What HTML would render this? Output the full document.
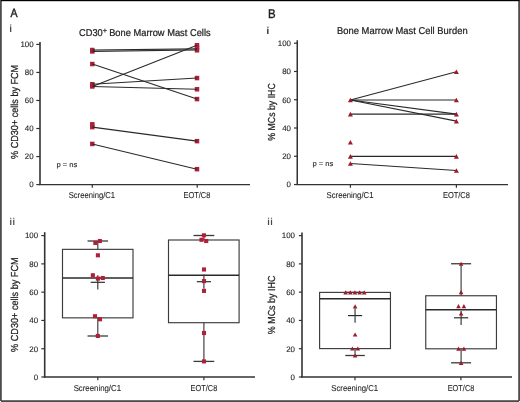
<!DOCTYPE html>
<html><head><meta charset="utf-8"><style>
html,body{margin:0;padding:0;background:#fff;}
body{width:520px;height:402px;overflow:hidden;}
svg{display:block;font-family:"Liberation Sans",sans-serif;font-kerning:none;text-rendering:geometricPrecision;will-change:transform;}
</style></head><body>
<svg width="520" height="402" viewBox="0 0 520 402" font-family="Liberation Sans, sans-serif">
<rect x="0" y="0" width="520" height="402" fill="#fff"/>
<text transform="translate(10.38,17.00) scale(0.10557,0.11919)" font-size="100" fill="#231f20" stroke="#231f20" stroke-width="3.78" >A</text>
<text transform="translate(267.96,18.00) scale(0.11461,0.12646)" font-size="100" fill="#231f20" stroke="#231f20" stroke-width="3.16" >B</text>
<text transform="translate(8.91,32.00) scale(0.14791,0.10212)" font-size="100" fill="#4a4a4a" >i</text>
<text transform="translate(265.78,34.00) scale(0.18204,0.09936)" font-size="100" fill="#4a4a4a" >i</text>
<text transform="translate(9.29,225.00) scale(0.13546,0.09936)" font-size="100" fill="#4a4a4a" >ii</text>
<text transform="translate(266.99,225.00) scale(0.13546,0.09936)" font-size="100" fill="#4a4a4a" >ii</text>
<text transform="translate(79.03,35.80) scale(0.09283,0.09884)" font-size="100" fill="#231f20" stroke="#231f20" stroke-width="2.53" >CD30</text>
<text transform="translate(102.84,33.00) scale(0.07410,0.07358)" font-size="100" fill="#231f20" stroke="#231f20" stroke-width="3.40" >+</text>
<text transform="translate(109.14,35.80) scale(0.09319,0.09884)" font-size="100" fill="#231f20" stroke="#231f20" stroke-width="2.53" >Bone Marrow Mast Cells</text>
<text transform="translate(337.03,33.90) scale(0.09398,0.09884)" font-size="100" fill="#231f20" stroke="#231f20" stroke-width="2.53" >Bone Marrow Mast Cell Burden</text>
<line x1="40.00" y1="42.00" x2="40.00" y2="184.90" stroke="#333333" stroke-width="1.6"/>
<line x1="36.30" y1="184.60" x2="40.00" y2="184.60" stroke="#333333" stroke-width="1.2"/>
<text transform="translate(29.21,187.40) scale(0.07910,0.07910)" font-size="100" fill="#231f20" stroke="#231f20" stroke-width="1.52" >0</text>
<line x1="36.30" y1="156.56" x2="40.00" y2="156.56" stroke="#333333" stroke-width="1.2"/>
<text transform="translate(24.81,159.36) scale(0.07910,0.07910)" font-size="100" fill="#231f20" stroke="#231f20" stroke-width="1.52" >20</text>
<line x1="36.30" y1="128.52" x2="40.00" y2="128.52" stroke="#333333" stroke-width="1.2"/>
<text transform="translate(24.81,131.32) scale(0.07910,0.07910)" font-size="100" fill="#231f20" stroke="#231f20" stroke-width="1.52" >40</text>
<line x1="36.30" y1="100.48" x2="40.00" y2="100.48" stroke="#333333" stroke-width="1.2"/>
<text transform="translate(24.81,103.28) scale(0.07910,0.07910)" font-size="100" fill="#231f20" stroke="#231f20" stroke-width="1.52" >60</text>
<line x1="36.30" y1="72.44" x2="40.00" y2="72.44" stroke="#333333" stroke-width="1.2"/>
<text transform="translate(24.81,75.24) scale(0.07910,0.07910)" font-size="100" fill="#231f20" stroke="#231f20" stroke-width="1.52" >80</text>
<line x1="36.30" y1="44.40" x2="40.00" y2="44.40" stroke="#333333" stroke-width="1.2"/>
<text transform="translate(20.41,47.20) scale(0.07910,0.07910)" font-size="100" fill="#231f20" stroke="#231f20" stroke-width="1.52" >100</text>
<line x1="39.20" y1="184.60" x2="250.00" y2="184.60" stroke="#333333" stroke-width="1.4"/>
<line x1="92.30" y1="184.60" x2="92.30" y2="187.80" stroke="#333333" stroke-width="1.2"/>
<line x1="197.20" y1="184.60" x2="197.20" y2="187.80" stroke="#333333" stroke-width="1.2"/>
<text transform="translate(68.65,198.00) scale(0.07662,0.08576)" font-size="100" fill="#231f20" stroke="#231f20" stroke-width="1.17" >Screening/C1</text>
<text transform="translate(183.59,198.00) scale(0.07400,0.08576)" font-size="100" fill="#231f20" stroke="#231f20" stroke-width="1.17" >EOT/C8</text>
<text transform="translate(17.80,158.92) rotate(-90) scale(0.09077,0.10175)" font-size="100" fill="#231f20" stroke="#231f20" stroke-width="2.46">% CD30+ cells by FCM</text>
<text transform="translate(56.41,167.10) scale(0.07619,0.07268)" font-size="100" fill="#231f20" stroke="#231f20" stroke-width="1.38" >p = ns</text>
<rect x="90.05" y="47.76" width="4.5" height="4.5" fill="#b01f38"/>
<rect x="90.05" y="49.16" width="4.5" height="4.5" fill="#b01f38"/>
<rect x="90.05" y="61.78" width="4.5" height="4.5" fill="#b01f38"/>
<rect x="90.05" y="81.97" width="4.5" height="4.5" fill="#b01f38"/>
<rect x="90.05" y="83.09" width="4.5" height="4.5" fill="#b01f38"/>
<rect x="90.05" y="84.21" width="4.5" height="4.5" fill="#b01f38"/>
<rect x="90.05" y="122.06" width="4.5" height="4.5" fill="#b01f38"/>
<rect x="90.05" y="124.87" width="4.5" height="4.5" fill="#b01f38"/>
<rect x="90.05" y="141.69" width="4.5" height="4.5" fill="#b01f38"/>
<rect x="194.75" y="42.99" width="4.5" height="4.5" fill="#b01f38"/>
<rect x="194.75" y="45.51" width="4.5" height="4.5" fill="#b01f38"/>
<rect x="194.75" y="48.04" width="4.5" height="4.5" fill="#b01f38"/>
<rect x="194.75" y="75.80" width="4.5" height="4.5" fill="#b01f38"/>
<rect x="194.75" y="87.01" width="4.5" height="4.5" fill="#b01f38"/>
<rect x="194.75" y="96.83" width="4.5" height="4.5" fill="#b01f38"/>
<rect x="194.75" y="138.89" width="4.5" height="4.5" fill="#b01f38"/>
<rect x="194.75" y="166.93" width="4.5" height="4.5" fill="#b01f38"/>
<line x1="92.30" y1="50.01" x2="197.00" y2="48.89" stroke="#2a2a2a" stroke-width="1.1"/>
<line x1="92.30" y1="51.41" x2="197.00" y2="50.01" stroke="#2a2a2a" stroke-width="1.1"/>
<line x1="92.30" y1="64.03" x2="197.00" y2="99.08" stroke="#2a2a2a" stroke-width="1.1"/>
<line x1="92.30" y1="86.46" x2="197.00" y2="45.24" stroke="#2a2a2a" stroke-width="1.1"/>
<line x1="92.30" y1="84.22" x2="197.00" y2="78.05" stroke="#2a2a2a" stroke-width="1.1"/>
<line x1="92.30" y1="86.46" x2="197.00" y2="89.26" stroke="#2a2a2a" stroke-width="1.1"/>
<line x1="92.30" y1="127.12" x2="197.00" y2="141.14" stroke="#2a2a2a" stroke-width="1.1"/>
<line x1="92.30" y1="143.94" x2="197.00" y2="169.18" stroke="#2a2a2a" stroke-width="1.1"/>
<line x1="297.25" y1="40.20" x2="297.25" y2="184.90" stroke="#333333" stroke-width="1.5"/>
<line x1="294.00" y1="184.55" x2="297.25" y2="184.55" stroke="#333333" stroke-width="1.2"/>
<text transform="translate(286.61,187.35) scale(0.07910,0.07910)" font-size="100" fill="#231f20" stroke="#231f20" stroke-width="1.52" >0</text>
<line x1="294.00" y1="156.28" x2="297.25" y2="156.28" stroke="#333333" stroke-width="1.2"/>
<text transform="translate(282.21,159.08) scale(0.07910,0.07910)" font-size="100" fill="#231f20" stroke="#231f20" stroke-width="1.52" >20</text>
<line x1="294.00" y1="128.01" x2="297.25" y2="128.01" stroke="#333333" stroke-width="1.2"/>
<text transform="translate(282.21,130.81) scale(0.07910,0.07910)" font-size="100" fill="#231f20" stroke="#231f20" stroke-width="1.52" >40</text>
<line x1="294.00" y1="99.74" x2="297.25" y2="99.74" stroke="#333333" stroke-width="1.2"/>
<text transform="translate(282.21,102.54) scale(0.07910,0.07910)" font-size="100" fill="#231f20" stroke="#231f20" stroke-width="1.52" >60</text>
<line x1="294.00" y1="71.47" x2="297.25" y2="71.47" stroke="#333333" stroke-width="1.2"/>
<text transform="translate(282.21,74.27) scale(0.07910,0.07910)" font-size="100" fill="#231f20" stroke="#231f20" stroke-width="1.52" >80</text>
<line x1="294.00" y1="43.20" x2="297.25" y2="43.20" stroke="#333333" stroke-width="1.2"/>
<text transform="translate(277.81,46.00) scale(0.07910,0.07910)" font-size="100" fill="#231f20" stroke="#231f20" stroke-width="1.52" >100</text>
<line x1="296.50" y1="184.60" x2="508.00" y2="184.60" stroke="#333333" stroke-width="1.4"/>
<line x1="350.40" y1="184.60" x2="350.40" y2="187.80" stroke="#333333" stroke-width="1.2"/>
<line x1="456.40" y1="184.60" x2="456.40" y2="187.80" stroke="#333333" stroke-width="1.2"/>
<text transform="translate(326.55,197.80) scale(0.07745,0.08576)" font-size="100" fill="#231f20" stroke="#231f20" stroke-width="1.17" >Screening/C1</text>
<text transform="translate(442.89,197.80) scale(0.07486,0.08576)" font-size="100" fill="#231f20" stroke="#231f20" stroke-width="1.17" >EOT/C8</text>
<text transform="translate(275.30,140.71) rotate(-90) scale(0.08762,0.10175)" font-size="100" fill="#231f20" stroke="#231f20" stroke-width="2.46">% MCs by IHC</text>
<text transform="translate(312.41,166.00) scale(0.07619,0.07268)" font-size="100" fill="#231f20" stroke="#231f20" stroke-width="1.38" >p = ns</text>
<line x1="350.40" y1="100.00" x2="456.40" y2="71.80" stroke="#2a2a2a" stroke-width="1.1"/>
<line x1="350.40" y1="100.00" x2="456.40" y2="100.00" stroke="#2a2a2a" stroke-width="1.1"/>
<line x1="350.40" y1="100.00" x2="456.40" y2="114.10" stroke="#2a2a2a" stroke-width="1.1"/>
<line x1="350.40" y1="100.00" x2="456.40" y2="121.15" stroke="#2a2a2a" stroke-width="1.1"/>
<line x1="350.40" y1="114.10" x2="456.40" y2="114.10" stroke="#2a2a2a" stroke-width="1.1"/>
<line x1="350.40" y1="156.40" x2="456.40" y2="156.40" stroke="#2a2a2a" stroke-width="1.1"/>
<line x1="350.40" y1="163.45" x2="456.40" y2="170.50" stroke="#2a2a2a" stroke-width="1.1"/>
<path d="M347.90,102.30 L352.90,102.30 L350.40,97.70 Z" fill="#9e1a2e"/>
<path d="M347.90,116.40 L352.90,116.40 L350.40,111.80 Z" fill="#9e1a2e"/>
<path d="M347.90,144.60 L352.90,144.60 L350.40,140.00 Z" fill="#9e1a2e"/>
<path d="M347.90,158.70 L352.90,158.70 L350.40,154.10 Z" fill="#9e1a2e"/>
<path d="M347.90,165.75 L352.90,165.75 L350.40,161.15 Z" fill="#9e1a2e"/>
<path d="M453.90,74.10 L458.90,74.10 L456.40,69.50 Z" fill="#9e1a2e"/>
<path d="M453.90,102.30 L458.90,102.30 L456.40,97.70 Z" fill="#9e1a2e"/>
<path d="M453.90,116.40 L458.90,116.40 L456.40,111.80 Z" fill="#9e1a2e"/>
<path d="M453.90,123.45 L458.90,123.45 L456.40,118.85 Z" fill="#9e1a2e"/>
<path d="M453.90,158.70 L458.90,158.70 L456.40,154.10 Z" fill="#9e1a2e"/>
<path d="M453.90,172.80 L458.90,172.80 L456.40,168.20 Z" fill="#9e1a2e"/>
<line x1="44.70" y1="232.20" x2="44.70" y2="377.60" stroke="#333333" stroke-width="1.6"/>
<line x1="41.30" y1="377.00" x2="44.70" y2="377.00" stroke="#333333" stroke-width="1.2"/>
<text transform="translate(33.71,379.80) scale(0.07910,0.07910)" font-size="100" fill="#231f20" stroke="#231f20" stroke-width="1.52" >0</text>
<line x1="41.30" y1="348.72" x2="44.70" y2="348.72" stroke="#333333" stroke-width="1.2"/>
<text transform="translate(29.31,351.52) scale(0.07910,0.07910)" font-size="100" fill="#231f20" stroke="#231f20" stroke-width="1.52" >20</text>
<line x1="41.30" y1="320.44" x2="44.70" y2="320.44" stroke="#333333" stroke-width="1.2"/>
<text transform="translate(29.31,323.24) scale(0.07910,0.07910)" font-size="100" fill="#231f20" stroke="#231f20" stroke-width="1.52" >40</text>
<line x1="41.30" y1="292.16" x2="44.70" y2="292.16" stroke="#333333" stroke-width="1.2"/>
<text transform="translate(29.31,294.96) scale(0.07910,0.07910)" font-size="100" fill="#231f20" stroke="#231f20" stroke-width="1.52" >60</text>
<line x1="41.30" y1="263.88" x2="44.70" y2="263.88" stroke="#333333" stroke-width="1.2"/>
<text transform="translate(29.31,266.68) scale(0.07910,0.07910)" font-size="100" fill="#231f20" stroke="#231f20" stroke-width="1.52" >80</text>
<line x1="41.30" y1="235.60" x2="44.70" y2="235.60" stroke="#333333" stroke-width="1.2"/>
<text transform="translate(24.91,238.40) scale(0.07910,0.07910)" font-size="100" fill="#231f20" stroke="#231f20" stroke-width="1.52" >100</text>
<line x1="43.90" y1="377.00" x2="255.00" y2="377.00" stroke="#333333" stroke-width="1.6"/>
<line x1="97.80" y1="377.00" x2="97.80" y2="380.20" stroke="#333333" stroke-width="1.2"/>
<line x1="203.90" y1="377.00" x2="203.90" y2="380.20" stroke="#333333" stroke-width="1.2"/>
<text transform="translate(73.65,390.80) scale(0.07812,0.08576)" font-size="100" fill="#231f20" stroke="#231f20" stroke-width="1.17" >Screening/C1</text>
<text transform="translate(190.60,390.80) scale(0.07372,0.08576)" font-size="100" fill="#231f20" stroke="#231f20" stroke-width="1.17" >EOT/C8</text>
<text transform="translate(17.80,351.93) rotate(-90) scale(0.09125,0.10175)" font-size="100" fill="#231f20" stroke="#231f20" stroke-width="2.46">% CD30+ cells by FCM</text>
<line x1="97.80" y1="241.00" x2="97.80" y2="249.35" stroke="#444" stroke-width="1.2"/>
<line x1="97.80" y1="317.85" x2="97.80" y2="336.00" stroke="#444" stroke-width="1.2"/>
<line x1="87.55" y1="241.00" x2="108.05" y2="241.00" stroke="#3a3a3a" stroke-width="1.3"/>
<line x1="87.55" y1="336.00" x2="108.05" y2="336.00" stroke="#3a3a3a" stroke-width="1.3"/>
<rect x="62.50" y="249.35" width="70.50" height="68.50" fill="none" stroke="#3c3c3c" stroke-width="1.15"/>
<line x1="62.50" y1="278.00" x2="133.00" y2="278.00" stroke="#2a2a2a" stroke-width="1.5"/>
<line x1="90.70" y1="282.30" x2="104.90" y2="282.30" stroke="#262626" stroke-width="1.15"/>
<line x1="97.80" y1="275.20" x2="97.80" y2="289.40" stroke="#333" stroke-width="1.15"/>
<line x1="203.90" y1="235.50" x2="203.90" y2="240.00" stroke="#444" stroke-width="1.2"/>
<line x1="203.90" y1="322.70" x2="203.90" y2="361.40" stroke="#444" stroke-width="1.2"/>
<line x1="193.50" y1="235.50" x2="214.30" y2="235.50" stroke="#3a3a3a" stroke-width="1.3"/>
<line x1="193.50" y1="361.40" x2="214.30" y2="361.40" stroke="#3a3a3a" stroke-width="1.3"/>
<rect x="168.50" y="240.00" width="70.60" height="82.70" fill="none" stroke="#3c3c3c" stroke-width="1.15"/>
<line x1="168.50" y1="275.30" x2="239.10" y2="275.30" stroke="#2a2a2a" stroke-width="1.5"/>
<line x1="196.80" y1="281.70" x2="211.00" y2="281.70" stroke="#262626" stroke-width="1.15"/>
<line x1="203.90" y1="274.60" x2="203.90" y2="288.80" stroke="#333" stroke-width="1.15"/>
<rect x="93.30" y="240.85" width="4.1" height="4.1" fill="#b01f38"/>
<rect x="97.80" y="238.95" width="4.1" height="4.1" fill="#b01f38"/>
<rect x="95.85" y="253.25" width="4.1" height="4.1" fill="#b01f38"/>
<rect x="90.80" y="273.20" width="4.1" height="4.1" fill="#b01f38"/>
<rect x="95.85" y="276.55" width="4.1" height="4.1" fill="#b01f38"/>
<rect x="100.70" y="275.95" width="4.1" height="4.1" fill="#b01f38"/>
<rect x="92.95" y="314.20" width="4.1" height="4.1" fill="#b01f38"/>
<rect x="97.95" y="317.20" width="4.1" height="4.1" fill="#b01f38"/>
<rect x="95.75" y="333.90" width="4.1" height="4.1" fill="#b01f38"/>
<rect x="201.85" y="233.25" width="4.1" height="4.1" fill="#b01f38"/>
<rect x="199.45" y="237.75" width="4.1" height="4.1" fill="#b01f38"/>
<rect x="204.15" y="238.95" width="4.1" height="4.1" fill="#b01f38"/>
<rect x="201.95" y="267.45" width="4.1" height="4.1" fill="#b01f38"/>
<rect x="201.95" y="279.05" width="4.1" height="4.1" fill="#b01f38"/>
<rect x="201.95" y="288.85" width="4.1" height="4.1" fill="#b01f38"/>
<rect x="201.95" y="330.95" width="4.1" height="4.1" fill="#b01f38"/>
<rect x="201.95" y="359.35" width="4.1" height="4.1" fill="#b01f38"/>
<line x1="302.00" y1="232.40" x2="302.00" y2="377.60" stroke="#333333" stroke-width="1.6"/>
<line x1="298.90" y1="377.00" x2="302.00" y2="377.00" stroke="#333333" stroke-width="1.2"/>
<text transform="translate(290.61,379.80) scale(0.07910,0.07910)" font-size="100" fill="#231f20" stroke="#231f20" stroke-width="1.52" >0</text>
<line x1="298.90" y1="348.72" x2="302.00" y2="348.72" stroke="#333333" stroke-width="1.2"/>
<text transform="translate(286.21,351.52) scale(0.07910,0.07910)" font-size="100" fill="#231f20" stroke="#231f20" stroke-width="1.52" >20</text>
<line x1="298.90" y1="320.44" x2="302.00" y2="320.44" stroke="#333333" stroke-width="1.2"/>
<text transform="translate(286.21,323.24) scale(0.07910,0.07910)" font-size="100" fill="#231f20" stroke="#231f20" stroke-width="1.52" >40</text>
<line x1="298.90" y1="292.16" x2="302.00" y2="292.16" stroke="#333333" stroke-width="1.2"/>
<text transform="translate(286.21,294.96) scale(0.07910,0.07910)" font-size="100" fill="#231f20" stroke="#231f20" stroke-width="1.52" >60</text>
<line x1="298.90" y1="263.88" x2="302.00" y2="263.88" stroke="#333333" stroke-width="1.2"/>
<text transform="translate(286.21,266.68) scale(0.07910,0.07910)" font-size="100" fill="#231f20" stroke="#231f20" stroke-width="1.52" >80</text>
<line x1="298.90" y1="235.60" x2="302.00" y2="235.60" stroke="#333333" stroke-width="1.2"/>
<text transform="translate(281.81,238.40) scale(0.07910,0.07910)" font-size="100" fill="#231f20" stroke="#231f20" stroke-width="1.52" >100</text>
<line x1="301.20" y1="377.00" x2="512.00" y2="377.00" stroke="#333333" stroke-width="1.6"/>
<line x1="355.00" y1="377.00" x2="355.00" y2="380.20" stroke="#333333" stroke-width="1.2"/>
<line x1="460.90" y1="377.00" x2="460.90" y2="380.20" stroke="#333333" stroke-width="1.2"/>
<text transform="translate(331.35,390.80) scale(0.07712,0.08576)" font-size="100" fill="#231f20" stroke="#231f20" stroke-width="1.17" >Screening/C1</text>
<text transform="translate(447.70,390.80) scale(0.07372,0.08576)" font-size="100" fill="#231f20" stroke="#231f20" stroke-width="1.17" >EOT/C8</text>
<text transform="translate(275.00,334.22) rotate(-90) scale(0.08932,0.10175)" font-size="100" fill="#231f20" stroke="#231f20" stroke-width="2.46">% MCs by IHC</text>
<line x1="355.05" y1="292.40" x2="355.05" y2="292.40" stroke="#444" stroke-width="1.2"/>
<line x1="355.05" y1="348.60" x2="355.05" y2="355.50" stroke="#444" stroke-width="1.2"/>
<line x1="345.30" y1="292.40" x2="364.80" y2="292.40" stroke="#3a3a3a" stroke-width="1.3"/>
<line x1="345.30" y1="355.50" x2="364.80" y2="355.50" stroke="#3a3a3a" stroke-width="1.3"/>
<rect x="319.60" y="292.40" width="70.85" height="56.20" fill="none" stroke="#3c3c3c" stroke-width="1.15"/>
<line x1="319.60" y1="298.80" x2="390.45" y2="298.80" stroke="#2a2a2a" stroke-width="1.5"/>
<line x1="347.95" y1="315.60" x2="362.15" y2="315.60" stroke="#262626" stroke-width="1.15"/>
<line x1="355.05" y1="308.50" x2="355.05" y2="322.70" stroke="#333" stroke-width="1.15"/>
<line x1="461.10" y1="263.75" x2="461.10" y2="295.75" stroke="#444" stroke-width="1.2"/>
<line x1="461.10" y1="348.80" x2="461.10" y2="362.80" stroke="#444" stroke-width="1.2"/>
<line x1="451.10" y1="263.75" x2="471.10" y2="263.75" stroke="#3a3a3a" stroke-width="1.3"/>
<line x1="451.10" y1="362.80" x2="471.10" y2="362.80" stroke="#3a3a3a" stroke-width="1.3"/>
<rect x="425.75" y="295.75" width="70.70" height="53.05" fill="none" stroke="#3c3c3c" stroke-width="1.15"/>
<line x1="425.75" y1="309.70" x2="496.45" y2="309.70" stroke="#2a2a2a" stroke-width="1.5"/>
<line x1="454.00" y1="317.80" x2="468.20" y2="317.80" stroke="#262626" stroke-width="1.15"/>
<line x1="461.10" y1="310.70" x2="461.10" y2="324.90" stroke="#333" stroke-width="1.15"/>
<path d="M343.30,294.40 L347.90,294.40 L345.60,290.20 Z" fill="#9e1a2e"/>
<path d="M348.00,294.40 L352.60,294.40 L350.30,290.20 Z" fill="#9e1a2e"/>
<path d="M352.60,294.40 L357.20,294.40 L354.90,290.20 Z" fill="#9e1a2e"/>
<path d="M357.30,294.40 L361.90,294.40 L359.60,290.20 Z" fill="#9e1a2e"/>
<path d="M361.90,294.40 L366.50,294.40 L364.20,290.20 Z" fill="#9e1a2e"/>
<path d="M352.80,308.40 L357.40,308.40 L355.10,304.20 Z" fill="#9e1a2e"/>
<path d="M352.80,336.60 L357.40,336.60 L355.10,332.40 Z" fill="#9e1a2e"/>
<path d="M350.10,350.60 L354.70,350.60 L352.40,346.40 Z" fill="#9e1a2e"/>
<path d="M355.50,350.60 L360.10,350.60 L357.80,346.40 Z" fill="#9e1a2e"/>
<path d="M352.80,357.60 L357.40,357.60 L355.10,353.40 Z" fill="#9e1a2e"/>
<path d="M458.80,265.85 L463.40,265.85 L461.10,261.65 Z" fill="#9e1a2e"/>
<path d="M458.80,294.30 L463.40,294.30 L461.10,290.10 Z" fill="#9e1a2e"/>
<path d="M456.20,308.30 L460.80,308.30 L458.50,304.10 Z" fill="#9e1a2e"/>
<path d="M461.60,308.30 L466.20,308.30 L463.90,304.10 Z" fill="#9e1a2e"/>
<path d="M458.80,315.60 L463.40,315.60 L461.10,311.40 Z" fill="#9e1a2e"/>
<path d="M456.20,350.70 L460.80,350.70 L458.50,346.50 Z" fill="#9e1a2e"/>
<path d="M461.60,350.70 L466.20,350.70 L463.90,346.50 Z" fill="#9e1a2e"/>
<path d="M458.80,364.90 L463.40,364.90 L461.10,360.70 Z" fill="#9e1a2e"/>
<rect x="0" y="0" width="1.8" height="401" fill="#4d4d4d"/>
<rect x="518.2" y="0" width="1.8" height="401" fill="#4d4d4d"/>
<rect x="1" y="400.2" width="518" height="1.8" fill="#4d4d4d"/>
<rect x="1" y="0" width="518.5" height="1.2" fill="#000"/>
</svg>
</body></html>
